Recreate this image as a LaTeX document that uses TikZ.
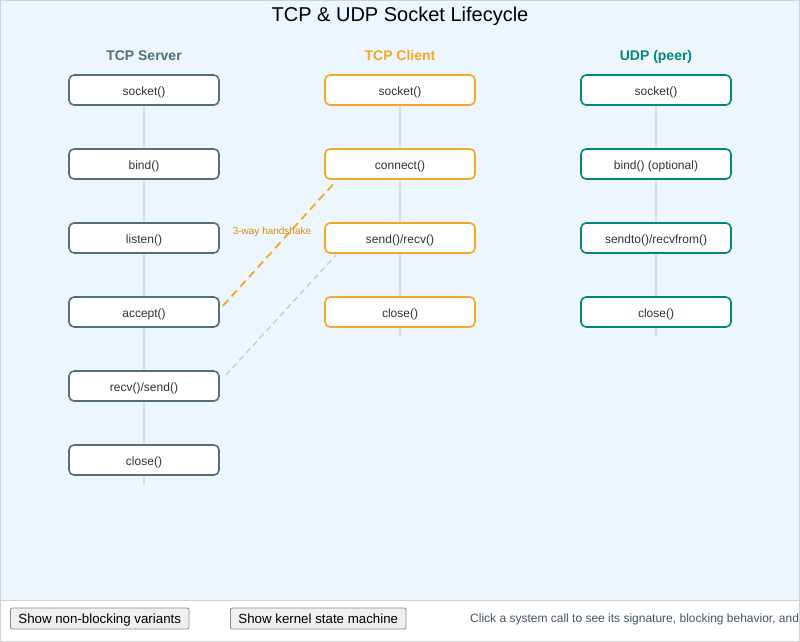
\documentclass[tikz,border=0pt]{standalone}
\usepackage{fontspec}
\setmainfont{Liberation Sans}
\usetikzlibrary{positioning}
\definecolor{bgpanel}{HTML}{EEF6FD}
\definecolor{srv}{HTML}{546E7A}
\definecolor{cli}{HTML}{F5A623}
\definecolor{udp}{HTML}{00897B}
\definecolor{lifeline}{HTML}{D5DDE5}
\definecolor{txt}{HTML}{333333}
\definecolor{hand}{HTML}{D98E0B}
\definecolor{status}{HTML}{445566}
\tikzset{
  x=1pt, y=-1pt,
  call/.style={draw=#1, line width=1.6pt, fill=white, rounded corners=5pt,
    minimum width=150pt, minimum height=30pt, inner sep=0pt,
    text height=11pt, text depth=1pt,
    font=\fontsize{12}{14}\selectfont, text=txt},
  head/.style={font=\fontsize{14}{16}\selectfont\bfseries, text=#1,
    text height=10pt, text depth=3pt},
  life/.style={draw=lifeline, line width=1.5pt},
  btn/.style={draw=gray!90, fill=gray!12, rounded corners=2pt, line width=0.8pt,
    minimum height=21pt, inner xsep=8pt, inner ysep=0pt,
    text height=10.5pt, text depth=1.5pt,
    font=\fontsize{13.3}{15}\selectfont},
}
\begin{document}
\begin{tikzpicture}
\useasboundingbox (0,0) rectangle (800,642);
\fill[bgpanel] (0,0) rectangle (800,600);
\fill[white] (0,600) rectangle (800,642);
\draw[gray!35, line width=1pt] (0,600.5) -- (800,600.5);
\draw[gray!35, line width=1pt] (0.5,0.5) rectangle (799.5,641.5);

\node[font=\fontsize{20}{22}\selectfont] (title) at (400,16) {TCP \& UDP Socket Lifecycle};

\node[head=srv] (hs) at (144,57.5) {TCP Server};
\node[head=cli] (hc) at (400,57.5) {TCP Client};
\node[head=udp] (hu) at (656,57.5) {UDP (peer)};

% lifelines
\coordinate (se) at (144,485);
\coordinate (ce) at (400,336);
\coordinate (ue) at (656,336);
\coordinate (ss) at (144,90);
\coordinate (cs) at (400,90);
\coordinate (us) at (656,90);
\draw[life] (ss) -- (se);
\draw[life] (cs) -- (ce);
\draw[life] (us) -- (ue);

% server
\node[call=srv] (s1) at (144,90) {socket()};
\node[call=srv] (s2) at (144,164) {bind()};
\node[call=srv] (s3) at (144,238) {listen()};
\node[call=srv] (s4) at (144,312) {accept()};
\node[call=srv] (s5) at (144,386) {recv()/send()};
\node[call=srv] (s6) at (144,460) {close()};

% client
\node[call=cli] (c1) at (400,90) {socket()};
\node[call=cli] (c2) at (400,164) {connect()};
\node[call=cli] (c3) at (400,238) {send()/recv()};
\node[call=cli] (c4) at (400,312) {close()};

% udp
\node[call=udp] (u1) at (656,90) {socket()};
\node[call=udp] (u2) at (656,164) {bind() (optional)};
\node[call=udp] (u3) at (656,238) {sendto()/recvfrom()};
\node[call=udp] (u4) at (656,312) {close()};

% cross connectors
\draw[cli, line width=1.8pt, dash pattern=on 8pt off 5pt]
  ([xshift=3pt,yshift=6pt]s4.east) -- ([xshift=12pt,yshift=-1pt]c2.south west);
\draw[gray!45, line width=1.2pt, dash pattern=on 6pt off 4pt]
  ([xshift=6pt,yshift=11pt]s5.east) -- ([xshift=12pt,yshift=-1pt]c3.south west);
\node[font=\fontsize{10}{12}\selectfont, text=hand] (hs3) at (272,232) {3-way handshake};

% bottom bar
\node[btn, anchor=west] (b1) at (10,618.5) {Show non-blocking variants};
\node[btn, anchor=west] (b2) at (230,618.5) {Show kernel state machine};
\node[anchor=west, inner sep=0pt, font=\fontsize{12}{14}\selectfont, text=status] (st) at (470,619.5)
  {Click a system call to see its signature, blocking behavior, and};
\end{tikzpicture}
\end{document}
